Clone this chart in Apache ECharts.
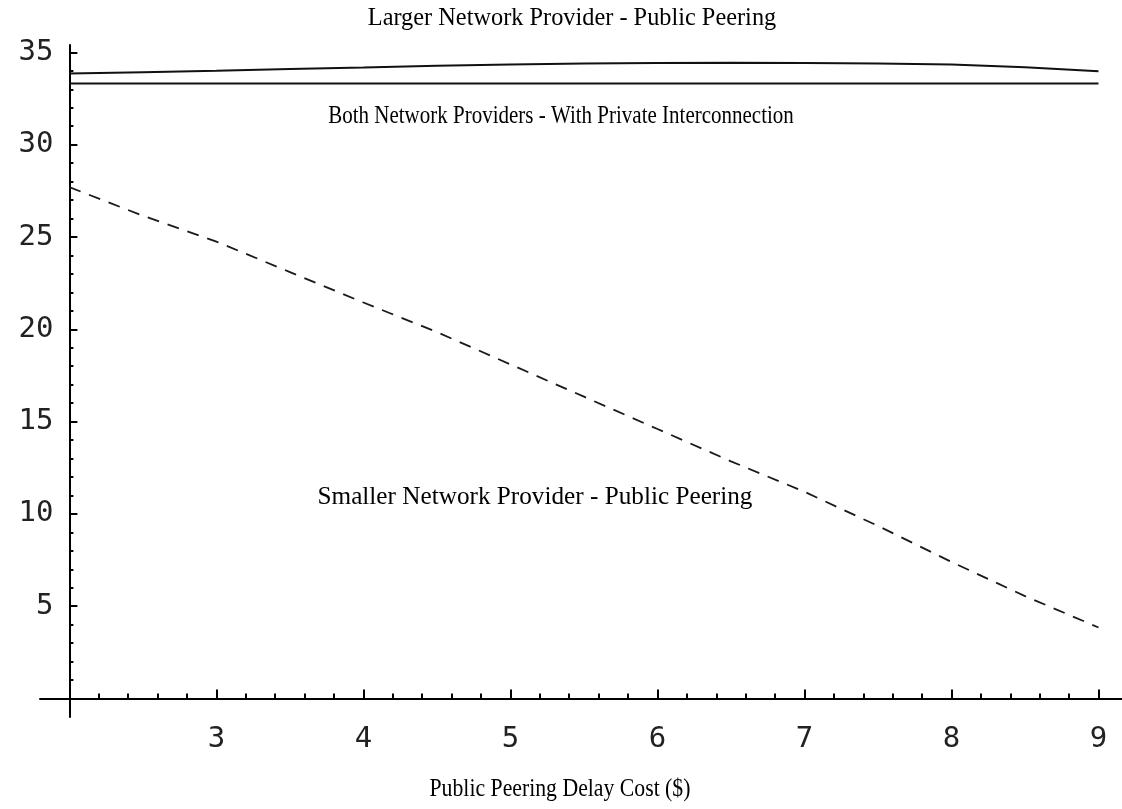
<!DOCTYPE html>
<html>
<head>
<meta charset="utf-8">
<script src="https://cdn.jsdelivr.net/npm/echarts@6/dist/echarts.min.js"></script>
<style>
html,body{margin:0;padding:0;background:#ffffff;}
#chart{width:1122px;height:809px;}
</style>
</head>
<body>
<div id="chart"></div>
<script>
// ---- data ----
const xValues = [2, 2.5, 3, 3.5, 4, 4.5, 5, 5.5, 6, 6.5, 7, 7.5, 8, 8.5, 9];
const largerPublic = [33.86, 33.93, 34.0, 34.1, 34.18, 34.27, 34.34, 34.4, 34.43, 34.44, 34.43, 34.4, 34.34, 34.2, 33.98];
const bothPrivate = [33.32, 33.32, 33.32, 33.32, 33.32, 33.32, 33.32, 33.32, 33.32, 33.32, 33.32, 33.32, 33.32, 33.32, 33.32];
const smallerPublic = [27.7, 26.15, 24.75, 23.1, 21.45, 19.85, 18.1, 16.35, 14.6, 12.85, 11.2, 9.35, 7.4, 5.55, 3.85];

const xMajorTicks = [3, 4, 5, 6, 7, 8, 9];
const yMajorTicks = [5, 10, 15, 20, 25, 30, 35];

const titleText = 'Larger Network Provider - Public Peering';
const bothLabel = 'Both Network Providers - With Private Interconnection';
const smallerLabel = 'Smaller Network Provider - Public Peering';
const xAxisTitle = 'Public Peering Delay Cost ($)';

// minor tick positions (0.2 steps on x, 1 step on y), skipping majors and origin
const xMinorTicks = [];
for (let i = 11; i <= 44; i++) { if (i % 5 !== 0) xMinorTicks.push(i / 5); }
const yMinorTicks = [];
for (let v = 1; v <= 34; v++) { if (v % 5 !== 0) yMinorTicks.push(v); }

const toPairs = (xs, ys) => xs.map((x, i) => [x, ys[i]]);

const X_MIN = 1.8, X_MAX = 9.16, Y_MIN = -1, Y_MAX = 35.4;
const GRID_LEFT = 40, GRID_RIGHT = 0, GRID_TOP = 45, GRID_BOTTOM = 92;
const yOffset = -((2 - X_MIN) / (X_MAX - X_MIN)) * (1122 - GRID_LEFT - GRID_RIGHT);

const tickFont = { fontFamily: 'DejaVu Sans Mono', fontSize: 29, color: '#222' };
const axisColor = '#000';

const chart = echarts.init(document.getElementById('chart'), null, { renderer: 'canvas' });

const lineBase = { type: 'line', showSymbol: false, symbol: 'none', silent: true, animation: false, xAxisIndex: 0, yAxisIndex: 0 };

chart.setOption({
  animation: false,
  backgroundColor: '#ffffff',
  grid: { left: GRID_LEFT, right: GRID_RIGHT, top: GRID_TOP, bottom: GRID_BOTTOM, containLabel: false },
  xAxis: [
    {
      type: 'value', min: X_MIN, max: X_MAX, position: 'bottom',
      axisLine: { show: true, onZero: true, lineStyle: { color: axisColor, width: 2 } },
      axisTick: { show: true, inside: true, length: 5, customValues: xMinorTicks, lineStyle: { color: axisColor, width: 2 } },
      axisLabel: { show: false },
      splitLine: { show: false }
    },
    {
      type: 'value', min: X_MIN, max: X_MAX, position: 'bottom',
      axisLine: { show: true, onZero: true, lineStyle: { color: axisColor, width: 2, opacity: 0 } },
      axisTick: { show: true, inside: true, length: 9, customValues: xMajorTicks, lineStyle: { color: axisColor, width: 2 } },
      axisLabel: Object.assign({ show: true, margin: 8, customValues: xMajorTicks, formatter: v => String(v) }, tickFont),
      splitLine: { show: false }
    }
  ],
  yAxis: [
    {
      type: 'value', min: Y_MIN, max: Y_MAX, position: 'left', offset: yOffset,
      axisLine: { show: true, onZero: false, lineStyle: { color: axisColor, width: 2 } },
      axisTick: { show: true, inside: true, length: 4, customValues: yMinorTicks, lineStyle: { color: axisColor, width: 2 } },
      axisLabel: { show: false },
      splitLine: { show: false }
    },
    {
      type: 'value', min: Y_MIN, max: Y_MAX, position: 'left', offset: yOffset,
      axisLine: { show: false, onZero: false },
      axisTick: { show: true, inside: true, length: 8, customValues: yMajorTicks, lineStyle: { color: axisColor, width: 2 } },
      axisLabel: Object.assign({ show: true, margin: 16, customValues: yMajorTicks, formatter: v => String(v) }, tickFont),
      splitLine: { show: false }
    }
  ],
  series: [
    Object.assign({}, lineBase, { name: titleText, data: toPairs(xValues, largerPublic), lineStyle: { color: '#111', width: 2, type: 'solid' } }),
    Object.assign({}, lineBase, { name: bothLabel, data: toPairs(xValues, bothPrivate), lineStyle: { color: '#111', width: 2, type: 'solid' } }),
    Object.assign({}, lineBase, { name: smallerLabel, data: toPairs(xValues, smallerPublic), lineStyle: { color: '#1a1a1a', width: 1.8, type: [12, 9] } })
  ],
  graphic: [
    { type: 'text', x: 572, y: 18, scaleX: 0.936, silent: true,
      style: { text: titleText, font: '26px "Liberation Serif", "Times New Roman", serif', fill: '#000', textAlign: 'center', textVerticalAlign: 'middle', verticalAlign: 'middle' } },
    { type: 'text', x: 561, y: 116, scaleX: 0.84, silent: true,
      style: { text: bothLabel, font: '25px "Liberation Serif", "Times New Roman", serif', fill: '#000', textAlign: 'center', textVerticalAlign: 'middle', verticalAlign: 'middle' } },
    { type: 'text', x: 535, y: 497, scaleX: 0.97, silent: true,
      style: { text: smallerLabel, font: '26px "Liberation Serif", "Times New Roman", serif', fill: '#000', textAlign: 'center', textVerticalAlign: 'middle', verticalAlign: 'middle' } },
    { type: 'text', x: 560, y: 789, scaleX: 0.87, silent: true,
      style: { text: xAxisTitle, font: '25px "Liberation Serif", "Times New Roman", serif', fill: '#000', textAlign: 'center', textVerticalAlign: 'middle', verticalAlign: 'middle' } }
  ]
});
</script>
</body>
</html>
